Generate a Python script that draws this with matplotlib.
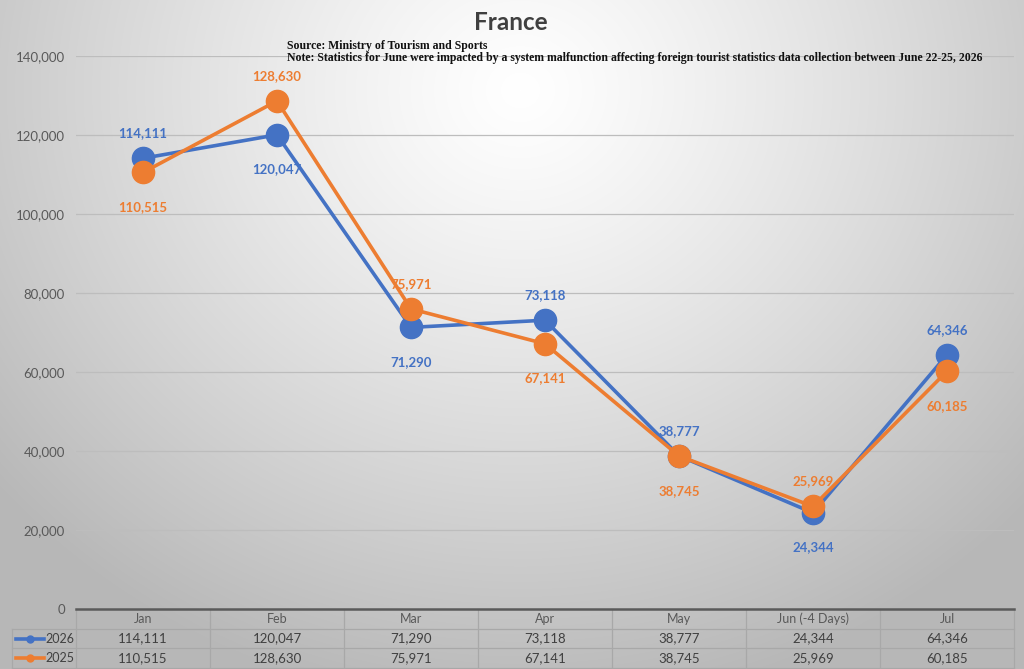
import matplotlib.pyplot as plt
import numpy as np
from matplotlib.lines import Line2D

months = ["Jan", "Feb", "Mar", "Apr", "May", "Jun (-4 Days)", "Jul"]
vals_2026 = [114111, 120047, 71290, 73118, 38777, 24344, 64346]
vals_2025 = [110515, 128630, 75971, 67141, 38745, 25969, 60185]
# where Excel put each data label: 1 = above the point, -1 = below
pos_2026 = [1, -1, -1, 1, 1, -1, 1]
pos_2025 = [-1, 1, 1, -1, -1, 1, -1]

BLUE = "#4472C4"
ORANGE = "#ED7D31"
GREY_TXT = "#595959"
SANS = ["Lato", "DejaVu Sans"]


def main():
    W, H = 1024, 669
    fig = plt.figure(figsize=(W / 100, H / 100), dpi=100)

    # radial grey background, lighter near the top centre
    bg = fig.add_axes([0, 0, 1, 1], zorder=-10)
    yy, xx = np.mgrid[0:H, 0:W]
    r = np.hypot((xx - 520) / 680.0, (yy - 90) / 620.0)
    shade = 1.0 - 0.28 * np.clip(r, 0, 1) ** 1.2
    bg.imshow(np.dstack([shade] * 3), aspect="auto", extent=[0, 1, 0, 1])
    bg.axis("off")

    left, right = 76 / W, 1014 / W
    bottom, top = (H - 609) / H, (H - 56) / H
    ax = fig.add_axes([left, bottom, right - left, top - bottom])
    ax.set_facecolor("none")

    x = np.arange(len(months))
    ax.set_xlim(-0.5, len(months) - 0.5)
    ax.set_ylim(0, 140000)
    ax.set_yticks(np.arange(0, 140001, 20000))
    ax.yaxis.set_major_formatter(plt.FuncFormatter(lambda v, p: f"{int(v):,}"))
    ax.tick_params(axis="y", length=0, pad=8, labelcolor=GREY_TXT, labelsize=9.5)
    for lab in ax.get_yticklabels():
        lab.set_family(SANS)
    ax.set_xticks([])
    ax.grid(axis="y", color="#bdbdbd", linewidth=0.9)
    ax.set_axisbelow(True)
    for s in ["top", "right", "left"]:
        ax.spines[s].set_visible(False)
    ax.spines["bottom"].set_color("#5a5a5a")
    ax.spines["bottom"].set_linewidth(1.8)

    series = [(vals_2026, pos_2026, BLUE, "2026"), (vals_2025, pos_2025, ORANGE, "2025")]
    for vals, pos, col, name in series:
        ax.plot(x, vals, color=col, linewidth=2.6, marker="o", markersize=16, label=name)
        for xi, v, p in zip(x, vals, pos):
            off = 18 if p > 0 else -25
            ax.annotate(f"{v:,}", (xi, v), xytext=(0, off), textcoords="offset points",
                        ha="center", va="center", color=col, fontsize=9.5,
                        fontweight="bold", family=SANS)

    # data table under the plot
    trans = ax.get_xaxis_transform()
    row_h = 19.7 / 553
    line_c = "#a8a8a8"
    lx = (12 - 76) / 938 * 7 - 0.5  # left edge of legend-key column in data units
    for i, m in enumerate(months):
        ax.text(i, -row_h * 0.5, m, transform=trans, ha="center", va="center",
                fontsize=9, color=GREY_TXT, family=SANS, clip_on=False)
        ax.text(i, -row_h * 1.5, f"{vals_2026[i]:,}", transform=trans, ha="center",
                va="center", fontsize=9.5, color="#404040", family=SANS, clip_on=False)
        ax.text(i, -row_h * 2.5, f"{vals_2025[i]:,}", transform=trans, ha="center",
                va="center", fontsize=9.5, color="#404040", family=SANS, clip_on=False)
    for b in np.arange(-0.5, len(months), 1.0):
        ax.add_line(Line2D([b, b], [0, -3 * row_h], transform=trans, color=line_c,
                           lw=0.9, clip_on=False))
    for k in (1, 2, 3):
        ax.add_line(Line2D([lx, len(months) - 0.5], [-k * row_h] * 2, transform=trans,
                           color=line_c, lw=0.9, clip_on=False))
    ax.add_line(Line2D([lx, lx], [-row_h, -3 * row_h], transform=trans, color=line_c,
                       lw=0.9, clip_on=False))

    # legend keys in the row-label column
    for k, (vals, pos, col, name) in enumerate(series):
        yk = -row_h * (1.5 + k)
        kx0, kx1 = lx + 4 / 134, lx + 32 / 134
        ax.add_line(Line2D([kx0, kx1], [yk, yk], transform=trans, color=col, lw=2.6,
                           clip_on=False))
        ax.add_line(Line2D([(kx0 + kx1) / 2], [yk], transform=trans, color=col,
                           marker="o", markersize=5, clip_on=False))
        ax.text(-0.515, yk, name, transform=trans, ha="right", va="center",
                fontsize=9, color="#404040", family=SANS, clip_on=False)

    fig.text(511 / W, 1 - 22 / H, "France", ha="center", va="center", fontsize=17.5,
             fontweight="bold", color="#404040", family=SANS)
    serif = ["Liberation Serif", "DejaVu Serif"]
    fig.text(287 / W, 1 - 46 / H, "Source: Ministry of Tourism and Sports",
             ha="left", va="center", fontsize=8.5, fontweight="bold", color="#111111",
             family=serif)
    fig.text(287 / W, 1 - 58 / H,
             "Note: Statistics for June were impacted by a system malfunction affecting "
             "foreign tourist statistics data collection between June 22-25, 2026",
             ha="left", va="center", fontsize=8.5, fontweight="bold", color="#111111",
             family=serif)

    fig.savefig("out.png", dpi=100)
    plt.close(fig)


if __name__ == "__main__":
    main()
